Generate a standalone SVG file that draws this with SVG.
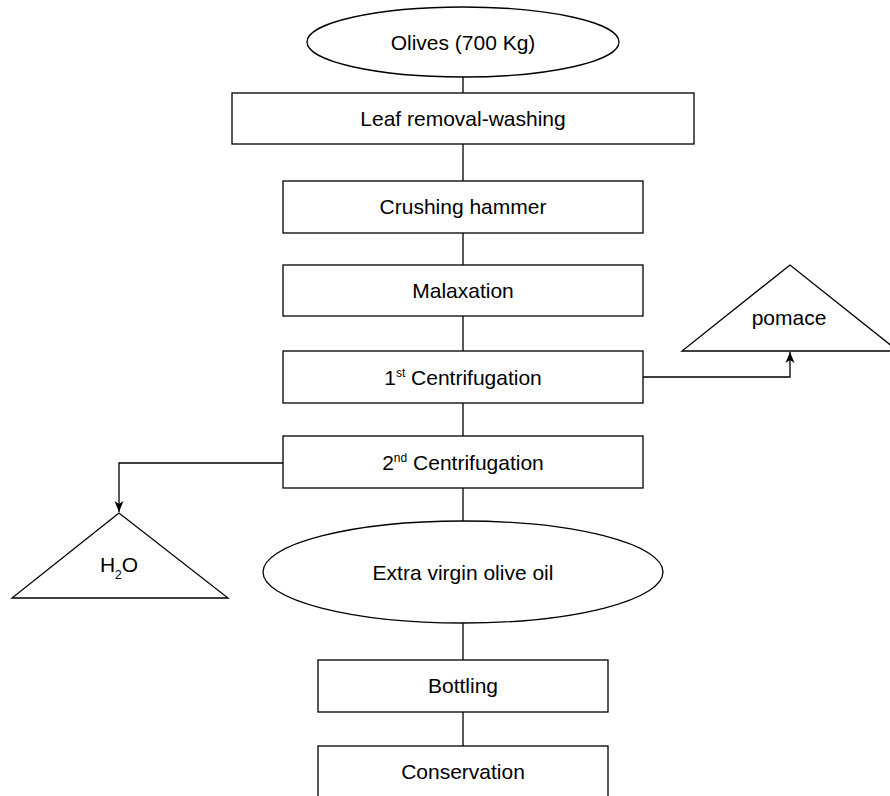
<svg xmlns="http://www.w3.org/2000/svg" width="890" height="796" viewBox="0 0 890 796">
<style>
.s{fill:#fff;stroke:#000;stroke-width:1.3}
.t{font-family:"Liberation Sans",Arial,sans-serif;font-size:21px;fill:#000;text-anchor:middle}
.c{fill:none;stroke:#000;stroke-width:1.3}
</style>
<defs>
<marker id="ar" markerWidth="12" markerHeight="12" viewBox="0 0 12 12" refX="11" refY="6" orient="auto" markerUnits="userSpaceOnUse">
<path d="M0,1.5 L11,6 L0,10.5 L3,6 Z" fill="#000"/>
</marker>
</defs>
<rect width="890" height="796" fill="#fff"/>
<g id="connectors">
<line class="c" x1="463" y1="77" x2="463" y2="93"/>
<line class="c" x1="463" y1="144" x2="463" y2="181"/>
<line class="c" x1="463" y1="233" x2="463" y2="265"/>
<line class="c" x1="463" y1="316" x2="463" y2="351"/>
<line class="c" x1="463" y1="403" x2="463" y2="436"/>
<line class="c" x1="463" y1="488" x2="463" y2="521"/>
<line class="c" x1="463" y1="623" x2="463" y2="660"/>
<line class="c" x1="463" y1="712" x2="463" y2="746"/>
<path class="c" d="M643,377 H790 V352" marker-end="url(#ar)"/>
<path class="c" d="M283,463 H119 V512" marker-end="url(#ar)"/>
</g>
<g id="olives">
<ellipse class="s" cx="463" cy="42" rx="156" ry="35"/>
<text class="t" x="463" y="50">Olives (700 Kg)</text>
</g>
<g id="leaf">
<rect class="s" x="232" y="93" width="462" height="51"/>
<text class="t" x="463" y="126">Leaf removal-washing</text>
</g>
<g id="crushing">
<rect class="s" x="283" y="181" width="360" height="52"/>
<text class="t" x="463" y="214">Crushing hammer</text>
</g>
<g id="malaxation">
<rect class="s" x="283" y="265" width="360" height="51"/>
<text class="t" x="463" y="298">Malaxation</text>
</g>
<g id="centrif1">
<rect class="s" x="283" y="351" width="360" height="52"/>
<text class="t" x="463" y="385">1<tspan font-size="12" dy="-8">st</tspan><tspan dy="8"> Centrifugation</tspan></text>
</g>
<g id="centrif2">
<rect class="s" x="283" y="436" width="360" height="52"/>
<text class="t" x="463" y="470">2<tspan font-size="12" dy="-8">nd</tspan><tspan dy="8"> Centrifugation</tspan></text>
</g>
<g id="pomace">
<polygon class="s" points="790,265 682,351 898,351"/>
<text class="t" x="789" y="325">pomace</text>
</g>
<g id="h2o">
<polygon class="s" points="119,513 12,598 228,598"/>
<text class="t" x="119" y="572">H<tspan font-size="12" dy="7">2</tspan><tspan dy="-7">O</tspan></text>
</g>
<g id="evoo">
<ellipse class="s" cx="463" cy="572" rx="200" ry="51"/>
<text class="t" x="463" y="580">Extra virgin olive oil</text>
</g>
<g id="bottling">
<rect class="s" x="318" y="660" width="290" height="52"/>
<text class="t" x="463" y="693">Bottling</text>
</g>
<g id="conservation">
<rect class="s" x="318" y="746" width="290" height="60"/>
<text class="t" x="463" y="779">Conservation</text>
</g>
</svg>
